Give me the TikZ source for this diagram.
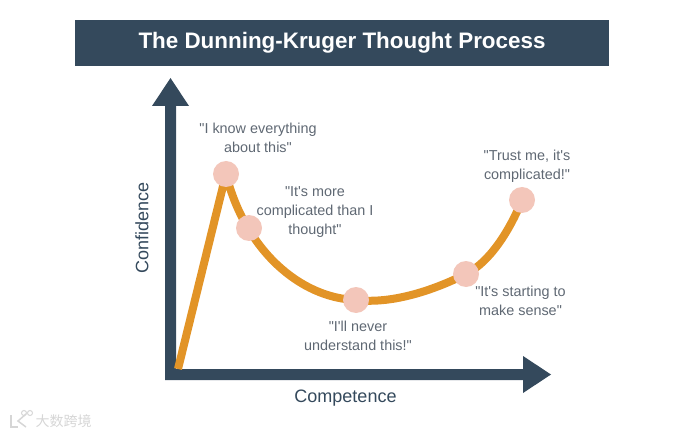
\documentclass[tikz,border=0pt]{standalone}
\usepackage{fontspec}
\setmainfont{Liberation Sans}[Ligatures=TeXOff]
\newfontfamily\cjkwm{Noto Sans CJK SC}
\definecolor{navy}{HTML}{34495C}
\definecolor{curveor}{HTML}{E29427}
\definecolor{dotpink}{HTML}{F3C6BA}
\definecolor{quote}{HTML}{5F6873}
\tikzset{
  dot/.style={circle,fill=dotpink,draw=none,minimum size=26pt,inner sep=0pt},
  saying/.style={align=center,text=quote,font=\fontsize{14.4}{19.3}\selectfont,inner sep=0pt},
  axislabel/.style={text=navy,font=\fontsize{18}{20}\selectfont,inner sep=0pt},
  axisarrow/.style={fill=navy,draw=none},
  curveline/.style={draw=curveor,line width=8pt,line cap=butt,line join=round}
}
\begin{document}
\begin{tikzpicture}[x=1pt,y=-1pt]
\useasboundingbox (0,0) rectangle (700,435);
\node[fill=navy,minimum width=534pt,minimum height=46pt,inner sep=0pt,text=white,font=\fontsize{22.4}{24}\selectfont\bfseries] (title) at (342,43) {The Dunning-Kruger Thought Process};
% axes
\fill[axisarrow] (165,380) -- (165,106) -- (152,106) -- (170.5,78) -- (189,106) -- (176,106) -- (176,369) -- (523,369) -- (523,356) -- (551,374.5) -- (523,393) -- (523,380) -- cycle;
\coordinate (origin) at (178,369);
% curve anchors, drawn under the dots
\coordinate (pa) at (226,174);
\coordinate (pc) at (356,300);
\coordinate (pd) at (466,274);
\coordinate (pe) at (522,200);
\draw[curveline] (origin) -- (pa) .. controls (245,250) and (300,298) .. (pc) .. controls (390,304) and (430,292) .. (pd) .. controls (490,262) and (510,230) .. (pe);
% points
\node[dot] (a) at (pa) {};
\node[dot] (b) at (249,228) {};
\node[dot] (c) at (pc) {};
\node[dot] (d) at (pd) {};
\node[dot] (e) at (pe) {};
% sayings
\node[saying] (sa) at (258,138) {"I know everything\\about this"};
\node[saying] (sb) at (315,212) {"It's more\\complicated than I\\thought"};
\node[saying] (sc) at (358,336) {"I'll never\\understand this!"};
\node[saying] (sd) at (520.5,301) {"It's starting to\\make sense"};
\node[saying] (se) at (527,166) {"Trust me, it's\\complicated!"};
% axis labels
\node[axislabel,rotate=90] (conf) at (142,228) {Confidence};
\node[axislabel] (comp) at (345.5,398) {Competence};
% watermark
\node[text=black!16,font=\cjkwm\fontsize{14}{14}\selectfont,inner sep=0pt] (wm) at (63.5,421) {大数跨境};
\draw[black!16,line width=1.5pt] (11,415) -- (11,427) -- (18,427);
\draw[black!16,line width=1.5pt] (26,414) -- (18,421) -- (26,427);
\draw[black!16,line width=1pt] (24,413) circle (2.5pt) (30,413) circle (2.5pt);
\end{tikzpicture}
\end{document}
